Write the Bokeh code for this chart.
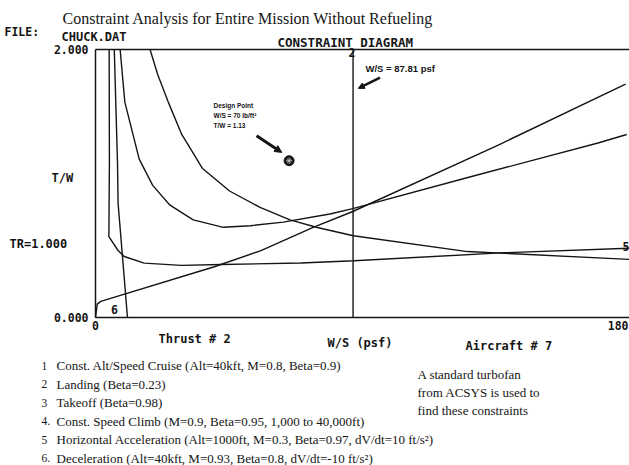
from bokeh.plotting import figure
from bokeh.models import Range1d, Label, Arrow, NormalHead
from bokeh.core.properties import value
from bokeh.embed import file_html
from bokeh.resources import INLINE

# ---------------- data ----------------
title_text = "Constraint Analysis for Entire Mission Without Refueling"

# 1  Const. Alt/Speed Cruise
cruise_ws = [18.6, 21.2, 24.7, 29.4, 36.4, 45.7, 56.1, 66.3, 75.6, 87.9, 126.8, 181.9]
cruise_tw = [2.0, 1.814, 1.613, 1.366, 1.114, 0.944, 0.822, 0.729, 0.672, 0.61, 0.492, 0.434]
# 2  Landing
landing_ws = [87.81, 87.81]
landing_tw = [0.0, 2.0]
# 3  Takeoff
takeoff_ws = [0.0, 0.6, 1.8, 40.5, 56.4, 74.2, 87.7, 137.3, 180.7]
takeoff_tw = [0.0, 0.1, 0.12, 0.379, 0.499, 0.672, 0.791, 1.287, 1.742]
# 4  Const. Speed Climb
climb_ws = [8.4, 10.0, 14.9, 19.5, 25.4, 33.3, 43.6, 52.8, 64.0, 79.9, 87.7, 126.3, 171.3, 181.1]
climb_tw = [2.0, 1.607, 1.182, 0.986, 0.838, 0.729, 0.673, 0.685, 0.712, 0.772, 0.813, 1.041, 1.302, 1.366]
# 5  Horizontal Acceleration
accel_ws = [4.66, 4.74, 4.56, 7.7, 9.8, 16.6, 29.3, 42.9, 70.0, 88.1, 138.0, 181.8]
accel_tw = [2.0, 1.153, 0.603, 0.50, 0.455, 0.406, 0.389, 0.395, 0.407, 0.423, 0.482, 0.517]
# 6  Deceleration
decel_ws = [6.4, 7.5, 7.7, 10.9]
decel_tw = [2.0, 1.153, 0.853, 0.0]

design_ws = [66.0]
design_tw = [1.17]

x_ticks = [0, 180]
x_tick_labels = ["0", "180"]
y_ticks = [0, 2]
y_tick_labels = ["0.000", "2.000"]

constraint_numbers = ["1", "2", "3", "4.", "5", "6."]
constraint_names = [
    "Const. Alt/Speed Cruise  (Alt=40kft, M=0.8,  Beta=0.9)",
    "Landing (Beta=0.23)",
    "Takeoff  (Beta=0.98)",
    "Const. Speed Climb  (M=0.9,  Beta=0.95,  1,000 to 40,000ft)",
    "Horizontal Acceleration (Alt=1000ft, M=0.3, Beta=0.97, dV/dt=10 ft/s\u00b2)",
    "Deceleration (Alt=40kft, M=0.93, Beta=0.8, dV/dt=-10 ft/s\u00b2)",
]
note_lines = ["A standard turbofan", " from  ACSYS is used to", "find these constraints"]

# ---------------- layout ----------------
W, H = 629, 465
# pixel positions of the diagram box on the page
PX_LEFT, PX_X180, PX_TOP, PX_BOTTOM = 95.0, 623.0, 49.0, 317.0
X0, X1, Y0, Y1 = 0.0, 180.0, 0.0, 2.0
sx = (PX_X180 - PX_LEFT) / (X1 - X0)
sy = (PX_BOTTOM - PX_TOP) / (Y1 - Y0)
x_lo = X0 - PX_LEFT / sx
x_hi = X0 + (W - PX_LEFT) / sx
y_lo = Y0 - (H - PX_BOTTOM) / sy
y_hi = Y0 + PX_BOTTOM / sy

p = figure(width=W, height=H, x_range=Range1d(x_lo, x_hi), y_range=Range1d(y_lo, y_hi),
           output_backend="svg", toolbar_location=None,
           x_axis_location=None, y_axis_location=None, min_border=0)
p.xgrid.visible = False
p.ygrid.visible = False
p.outline_line_color = None
p.background_fill_color = "white"
p.border_fill_color = "white"

MONO = "DejaVu Sans Mono"
SERIF = "Liberation Serif"
SANS = "Liberation Sans"
INK = "#151515"

# diagram box: left edge, top edge and bottom edge (axis lines)
p.segment(x0=[X0, X0, X0], y0=[Y0, Y1, Y0], x1=[X0, x_hi, x_hi], y1=[Y1, Y1, Y0],
          line_color=INK, line_width=1.5)

# tick labels through the scales
p.text(x=x_ticks[:-1], y=[Y0] * (len(x_ticks) - 1), text=x_tick_labels[:-1], text_align="center",
       text_baseline="top", y_offset=3, text_font=value(MONO), text_font_style="bold",
       text_font_size="11.5px", text_color=INK)
p.text(x=x_ticks[-1:], y=[Y0], text=x_tick_labels[-1:], text_align="right",
       text_baseline="top", x_offset=5, y_offset=3, text_font=value(MONO), text_font_style="bold",
       text_font_size="11.5px", text_color=INK)
p.text(x=[X0] * len(y_ticks), y=y_ticks, text=y_tick_labels, text_align="right",
       text_baseline="middle", x_offset=-7, text_font=value(MONO), text_font_style="bold",
       text_font_size="11.5px", text_color=INK)

# ---------------- constraint curves ----------------
for xs, ys in [(cruise_ws, cruise_tw), (landing_ws, landing_tw), (takeoff_ws, takeoff_tw),
               (climb_ws, climb_tw), (accel_ws, accel_tw), (decel_ws, decel_tw)]:
    p.line(xs, ys, line_color=INK, line_width=1.4)

# design point
p.scatter(design_ws, design_tw, marker="circle", size=10, fill_color=INK, line_color=INK)
p.scatter(design_ws, design_tw, marker="asterisk", size=6, line_color="#bbbbbb", line_width=1)

# ---------------- text helpers (page pixels -> data) ----------------
def dx(px):
    return X0 + (px - PX_LEFT) / sx

def dy(py):
    return Y0 + (PX_BOTTOM - py) / sy

def put(px, py, text, size, font=MONO, style="bold", align="left", baseline="middle"):
    p.add_layout(Label(x=dx(px), y=dy(py), text=text, text_font=font,
                       text_font_size=size, text_font_style=style, text_color=INK,
                       text_align=align, text_baseline=baseline))

put(62, 18, title_text, "16px", font=SERIF, style="normal")
put(4, 31, "FILE:", "11.5px")
put(61, 36, "CHUCK.DAT", "12px")
put(277, 42, "CONSTRAINT DIAGRAM", "12.5px")
put(51, 177, "T/W", "12px")
put(9, 243, "TR=1.000", "12px")
put(158, 338, "Thrust # 2", "12px")
put(327, 342, "W/S (psf)", "12px")
put(465, 345, "Aircraft # 7", "12px")

# curve labels
put(355, 52, "2", "11.5px", align="right")
put(629, 246, "5", "11.5px", align="right")
put(114, 309, "6", "11.5px", align="center")

# design point annotation
put(213, 105, "Design Point", "6.5px", font=SANS)
put(213, 115, "W/S = 70 lb/ft\u00b2", "6.5px", font=SANS)
put(213, 125, "T/W = 1.13", "6.5px", font=SANS)
p.add_layout(Arrow(end=NormalHead(size=7, fill_color=INK, line_color=INK),
                   x_start=54.9, y_start=1.356, x_end=63.5, y_end=1.232,
                   line_color=INK, line_width=3))

# landing annotation
put(365, 68, "W/S = 87.81 psf", "9.5px", font=SANS)
p.add_layout(Arrow(end=NormalHead(size=6, fill_color=INK, line_color=INK),
                   x_start=97.0, y_start=1.79, x_end=89.6, y_end=1.71,
                   line_color=INK, line_width=2.5))

# legend of constraints
for i, (num, name) in enumerate(zip(constraint_numbers, constraint_names)):
    py = 365 + 18.5 * i
    put(41, py, num, "11.5px", font=SERIF, style="normal")
    put(56, py, name, "13px", font=SERIF, style="normal")

for i, line in enumerate(note_lines):
    put(417, 374 + 17.8 * i, line, "13px", font=SERIF, style="normal")

open("out.html", "w").write(file_html(p, INLINE))
